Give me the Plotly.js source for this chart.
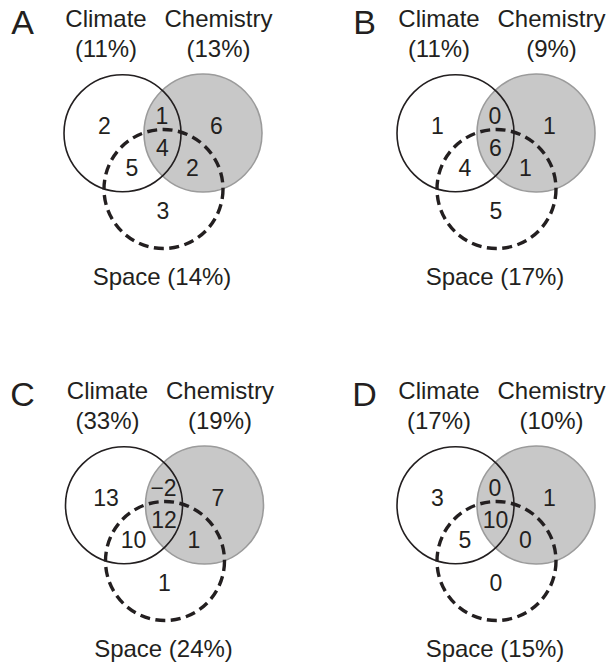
<!DOCTYPE html>
<html>
<head>
<meta charset="utf-8">
<script src="https://cdn.plot.ly/plotly-3.0.1.min.js"></script>
<style>html,body{margin:0;padding:0;background:#fff;}</style>
</head>
<body>
<div id="chart" style="width:610px;height:667px;"></div>
<script>
// ---------- data ----------
const panelLetters   = ['A', 'B', 'C', 'D'];
const setNames       = ['Climate', 'Chemistry', 'Space'];
const climatePct     = [11, 11, 33, 17];
const chemistryPct   = [13, 9, 19, 10];
const spacePct       = [14, 17, 24, 15];
// region values per panel
const climateOnly    = [2, 1, 13, 3];
const chemistryOnly  = [6, 1, 7, 1];
const spaceOnly      = [3, 5, 1, 0];
const climateChem    = [1, 0, -2, 0];
const climateSpace   = [5, 4, 10, 5];
const chemSpace      = [2, 1, 1, 0];
const allThree       = [4, 6, 12, 10];

// ---------- layout geometry (local pixel units per panel) ----------
const W = 277, H = 295, PW = 610, PH = 667;
const panelOrigin = [[0, 0], [333, 0], [1.5, 372], [333, 372]];
const circ = {
  climate:   {cx: 122.5, cy: 133.2, r: 58.5},
  chemistry: {cx: 203,   cy: 133,   r: 59},
  space:     {cx: 163.5, cy: 189,   r: 59.5}
};
const regionPos = {
  climateOnly:   [104.5, 128],
  climateChem:   [162, 118],
  chemistryOnly: [216.5, 128],
  allThree:      [162.5, 150.5],
  climateSpace:  [132, 170],
  chemSpace:     [192.5, 170],
  spaceOnly:     [163, 213]
};
const fontFam = 'Liberation Sans, Arial, Helvetica, sans-serif';
const ink = '#231f20';

function fmt(v) { return v < 0 ? '\u2212' + Math.abs(v) : String(v); }

const traces = [];
const shapes = [];
const layout = {
  width: PW, height: PH,
  margin: {l: 0, r: 0, t: 0, b: 0},
  paper_bgcolor: '#fff', plot_bgcolor: 'rgba(0,0,0,0)',
  showlegend: false,
  shapes: shapes
};

for (let p = 0; p < 4; p++) {
  const [ox, oy] = panelOrigin[p];
  const ax = p === 0 ? '' : String(p + 1);
  const xa = 'xaxis' + ax, ya = 'yaxis' + ax;
  layout[xa] = {domain: [ox / PW, (ox + W) / PW], range: [0, W], visible: false, fixedrange: true};
  layout[ya] = {domain: [1 - (oy + H) / PH, 1 - oy / PH], range: [H, 0], visible: false, fixedrange: true};
  const xr = 'x' + ax, yr = 'y' + ax;

  const c = circ;
  shapes.push({type: 'circle', xref: xr, yref: yr, layer: 'below',
    x0: c.chemistry.cx - c.chemistry.r, x1: c.chemistry.cx + c.chemistry.r,
    y0: c.chemistry.cy - c.chemistry.r, y1: c.chemistry.cy + c.chemistry.r,
    fillcolor: '#c8c8c8', line: {color: '#9b9b9b', width: 1.6}});
  shapes.push({type: 'circle', xref: xr, yref: yr, layer: 'below',
    x0: c.climate.cx - c.climate.r, x1: c.climate.cx + c.climate.r,
    y0: c.climate.cy - c.climate.r, y1: c.climate.cy + c.climate.r,
    fillcolor: 'rgba(0,0,0,0)', line: {color: ink, width: 1.6}});
  shapes.push({type: 'circle', xref: xr, yref: yr, layer: 'below',
    x0: c.space.cx - c.space.r, x1: c.space.cx + c.space.r,
    y0: c.space.cy - c.space.r, y1: c.space.cy + c.space.r,
    fillcolor: 'rgba(0,0,0,0)', line: {color: ink, width: 3.4, dash: '10px,5.5px'}});

  // region numbers
  const keys = ['climateOnly', 'climateChem', 'chemistryOnly', 'allThree', 'climateSpace', 'chemSpace', 'spaceOnly'];
  const vals = [climateOnly[p], climateChem[p], chemistryOnly[p], allThree[p], climateSpace[p], chemSpace[p], spaceOnly[p]];
  traces.push({
    type: 'scatter', mode: 'text', xaxis: xr, yaxis: yr, hoverinfo: 'skip',
    x: keys.map(k => regionPos[k][0]), y: keys.map(k => regionPos[k][1]),
    text: vals.map(fmt), textposition: 'middle center',
    textfont: {family: fontFam, size: 23, color: ink}
  });

  // set labels
  traces.push({
    type: 'scatter', mode: 'text', xaxis: xr, yaxis: yr, hoverinfo: 'skip',
    x: [106, 106, 218.5, 218.5, 162],
    y: [20.5, 51, 20.5, 51, 279],
    text: [setNames[0], '(' + climatePct[p] + '%)', setNames[1], '(' + chemistryPct[p] + '%)',
           setNames[2] + ' (' + spacePct[p] + '%)'],
    textposition: 'middle center',
    textfont: {family: fontFam, size: 24, color: ink}
  });

  // panel letter
  traces.push({
    type: 'scatter', mode: 'text', xaxis: xr, yaxis: yr, hoverinfo: 'skip',
    x: [p % 2 === 0 ? 22.5 - ox : 364.5 - ox], y: [25],
    text: [panelLetters[p]], textposition: 'middle center',
    textfont: {family: fontFam, size: 34, color: ink}
  });
}

Plotly.newPlot('chart', traces, layout, {staticPlot: true, displayModeBar: false});
</script>
</body>
</html>
